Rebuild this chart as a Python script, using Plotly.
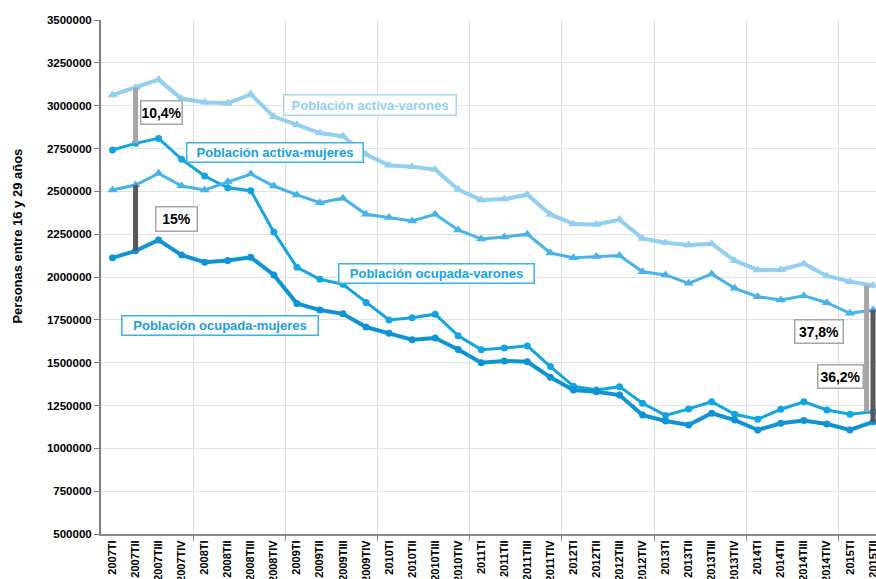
import plotly.graph_objects as go

# Trimestres (eje X)
periodos = ["2007TI", "2007TII", "2007TIII", "2007TIV",
            "2008TI", "2008TII", "2008TIII", "2008TIV",
            "2009TI", "2009TII", "2009TIII", "2009TIV",
            "2010TI", "2010TII", "2010TIII", "2010TIV",
            "2011TI", "2011TII", "2011TIII", "2011TIV",
            "2012TI", "2012TII", "2012TIII", "2012TIV",
            "2013TI", "2013TII", "2013TIII", "2013TIV",
            "2014TI", "2014TII", "2014TIII", "2014TIV",
            "2015TI", "2015TII"]

activa_varones = [3062000, 3105000, 3152000, 3040000, 3020000, 3014000, 3066000, 2936000,
                  2888000, 2840000, 2822000, 2715000, 2652000, 2644000, 2627000, 2510000,
                  2450000, 2455000, 2480000, 2365000, 2310000, 2307000, 2335000, 2225000,
                  2200000, 2187000, 2194000, 2095000, 2041000, 2043000, 2078000, 2006000,
                  1973000, 1951000]

activa_mujeres = [2741000, 2780000, 2809000, 2687000, 2589000, 2521000, 2504000, 2262000,
                  2057000, 1987000, 1957000, 1851000, 1749000, 1762000, 1783000, 1657000,
                  1576000, 1585000, 1598000, 1477000, 1363000, 1340000, 1360000, 1263000,
                  1192000, 1230000, 1272000, 1199000, 1170000, 1228000, 1272000, 1224000,
                  1199000, 1213000]

ocupada_varones = [2508000, 2537000, 2605000, 2531000, 2508000, 2556000, 2601000, 2531000,
                   2479000, 2434000, 2460000, 2366000, 2348000, 2327000, 2366000, 2275000,
                   2222000, 2233000, 2250000, 2140000, 2112000, 2120000, 2125000, 2031000,
                   2012000, 1963000, 2018000, 1934000, 1885000, 1866000, 1891000, 1850000,
                   1788000, 1808000]

ocupada_mujeres = [2112000, 2153000, 2216000, 2128000, 2086000, 2096000, 2115000, 2012000,
                   1846000, 1807000, 1785000, 1708000, 1671000, 1634000, 1644000, 1577000,
                   1500000, 1510000, 1505000, 1415000, 1340000, 1330000, 1311000, 1194000,
                   1160000, 1136000, 1205000, 1165000, 1107000, 1146000, 1162000, 1142000,
                   1107000, 1155000]

# brechas entre sexos (indice del trimestre, texto)
brechas_activa = [(1, "10,4%"), (33, "37,8%")]
brechas_ocupada = [(1, "15%"), (33, "36,2%")]

W, H = 876, 579
L, T, B = 100.5, 20, 45
x = list(range(len(periodos)))
fnt = "Arial, Liberation Sans, sans-serif"

fig = go.Figure()

series = [
    (activa_varones, "Población activa-varones", "#92CFF0", 4, "triangle-up", 9),
    (activa_mujeres, "Población activa-mujeres", "#12A5E0", 3, "circle", 7),
    (ocupada_varones, "Población ocupada-varones", "#48B3E7", 3, "triangle-up", 9),
    (ocupada_mujeres, "Población ocupada-mujeres", "#0E94D4", 4, "circle", 7),
]
for vals, name, col, w, sym, sz in series:
    fig.add_trace(go.Scatter(x=x, y=vals, name=name, mode="lines+markers",
                             line=dict(color=col, width=w),
                             marker=dict(symbol=sym, size=sz, color=col)))

## barras de brecha
for i, txt in brechas_activa:
    xi = i if i < 30 else i - 0.28
    fig.add_trace(go.Scatter(x=[xi, xi], y=[activa_varones[i], activa_mujeres[i]],
                             mode="lines", line=dict(color="#A6A6A6", width=5)))
for i, txt in brechas_ocupada:
    fig.add_trace(go.Scatter(x=[i, i], y=[ocupada_varones[i], ocupada_mujeres[i]],
                             mode="lines", line=dict(color="#595959", width=5)))


def px(xp, yp):
    # pixel -> paper
    return (xp - L) / (W - L), (H - B - yp) / (H - B - T)


def caja(xp, yp, w, h, txt, col, bcol, size=13):
    ax, ay = px(xp, yp)
    fig.add_annotation(x=ax, y=ay, xref="paper", yref="paper", text=txt, showarrow=False,
                       width=w, height=h, borderpad=0, bordercolor=bcol, borderwidth=1.5,
                       bgcolor="white", xanchor="center", yanchor="middle",
                       font=dict(family=fnt, size=size, color=col, weight="bold"))


caja(369.5, 105.5, 171, 19, "Población activa-varones", "#92CFF0", "#A8D8F2")
caja(274.5, 152, 175, 18, "Población activa-mujeres", "#12A2DE", "#3AB2E4")
caja(436, 273, 194, 18, "Población ocupada-varones", "#17A4DF", "#3AB2E4")
caja(220, 325, 195, 18, "Población ocupada-mujeres", "#1A9ED9", "#3AB2E4")
caja(161, 112, 40, 22, brechas_activa[0][1], "black", "#A6A6A6", 14)
caja(176, 219.5, 40, 23, brechas_ocupada[0][1], "black", "#A6A6A6", 14)
caja(818.5, 331, 47, 22, brechas_activa[1][1], "black", "#A6A6A6", 14)
caja(840, 376, 44, 22, brechas_ocupada[1][1], "black", "#A6A6A6", 14)

# titulo eje Y
tx, ty = px(17, 236)
fig.add_annotation(x=tx, y=ty, xref="paper", yref="paper", text="Personas entre 16 y 29 años",
                   showarrow=False, textangle=-90, xanchor="center", yanchor="middle",
                   font=dict(family=fnt, size=13, color="black", weight="bold"))

paso = 23.06
fig.update_layout(
    width=W, height=H,
    margin=dict(l=L, r=0, t=T, b=B, autoexpand=False),
    paper_bgcolor="white", plot_bgcolor="white",
    showlegend=False,
    xaxis=dict(range=[-0.5, -0.5 + (W - L) / paso], tickmode="array", tickvals=x, ticktext=periodos,
               tickangle=-90, showgrid=False, zeroline=False, ticks="", automargin=False,
               ticklabeloverflow="allow",
               tickfont=dict(family=fnt, size=11, color="black", weight="bold"),
               showline=True, linecolor="#8C8C8C", linewidth=2,
               minor=dict(tickmode="array", tickvals=[k + 3.5 for k in range(0, 32, 4)],
                          showgrid=True, gridcolor="#DCDCDC", gridwidth=1,
                          ticks="outside", ticklen=5, tickcolor="#8C8C8C", tickwidth=1)),
    yaxis=dict(range=[500000, 3500000], dtick=250000, tickformat="d", showgrid=True,
               gridcolor="#E3E3E3", gridwidth=1, zeroline=False, showline=True, automargin=False,
               linecolor="#7F7F7F", linewidth=2, ticks="outside", ticklen=5, tickcolor="#7F7F7F",
               tickfont=dict(family=fnt, size=11.5, color="black", weight="bold")),
)

# quitar el margen por defecto del body para que la figura ocupe toda la ventana
fig.write_html("out.html", config={"displayModeBar": False},
               post_script="document.body.style.margin='0';document.body.style.overflow='hidden';")
